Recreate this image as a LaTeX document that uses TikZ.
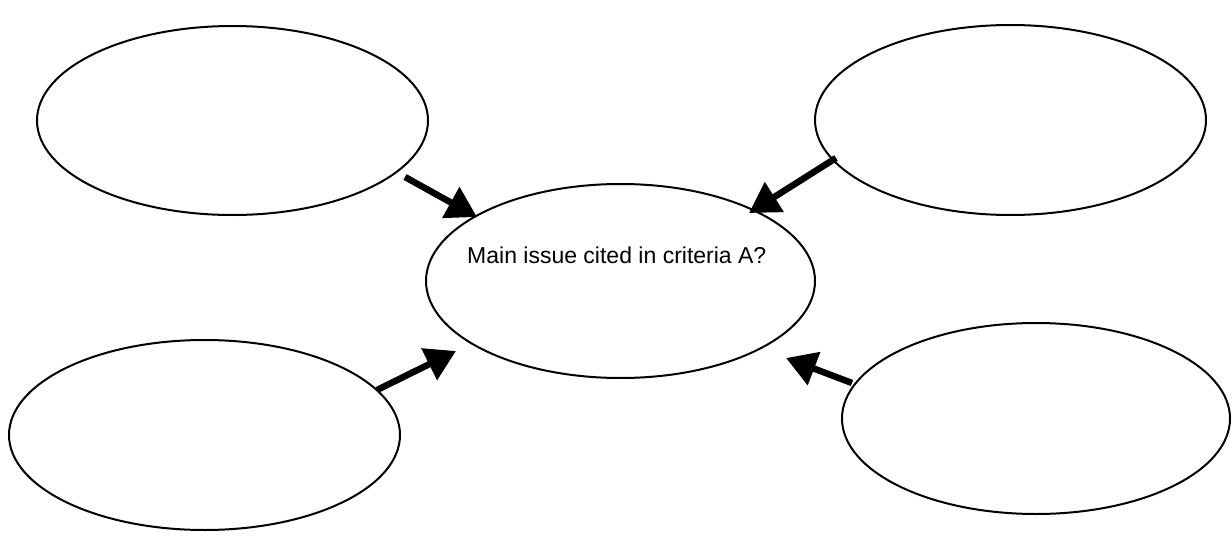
\documentclass[tikz,border=0pt]{standalone}
\usepackage{fontspec}
\setmainfont{Liberation Sans}
\usetikzlibrary{arrows.meta,shapes.geometric}
\begin{document}
\begin{tikzpicture}[x=1pt,y=-1pt,
  bubble/.style={draw=black,line width=2pt,ellipse,inner sep=0pt},
  pointer/.style={line width=6.5pt,-{Triangle[length=30pt,width=34pt]}}]
\useasboundingbox (0,0) rectangle (1232,543);
\node[bubble,minimum width=391pt,minimum height=189pt] (tl) at (232.5,120.5) {};
\node[bubble,minimum width=391pt,minimum height=190pt] (tr) at (1010.5,120) {};
\node[bubble,minimum width=389pt,minimum height=194pt] (c) at (620.5,281) {};
\node[bubble,minimum width=391pt,minimum height=190pt] (bl) at (204.5,435) {};
\node[bubble,minimum width=388pt,minimum height=191pt] (br) at (1036,418.5) {};
\node[font=\fontsize{23}{27}\selectfont,anchor=base west,inner sep=0pt] (t) at (467,263) {Main issue cited in criteria A?};
\coordinate (s1) at (405,177); \coordinate (e1) at (477,217);
\coordinate (s2) at (836,158); \coordinate (e2) at (749,213);
\coordinate (s3) at (377,390); \coordinate (e3) at (456,351);
\coordinate (s4) at (852,383); \coordinate (e4) at (786,358);
\draw[pointer] (s1) -- (e1);
\draw[pointer] (s2) -- (e2);
\draw[pointer] (s3) -- (e3);
\draw[pointer] (s4) -- (e4);
\end{tikzpicture}
\end{document}
